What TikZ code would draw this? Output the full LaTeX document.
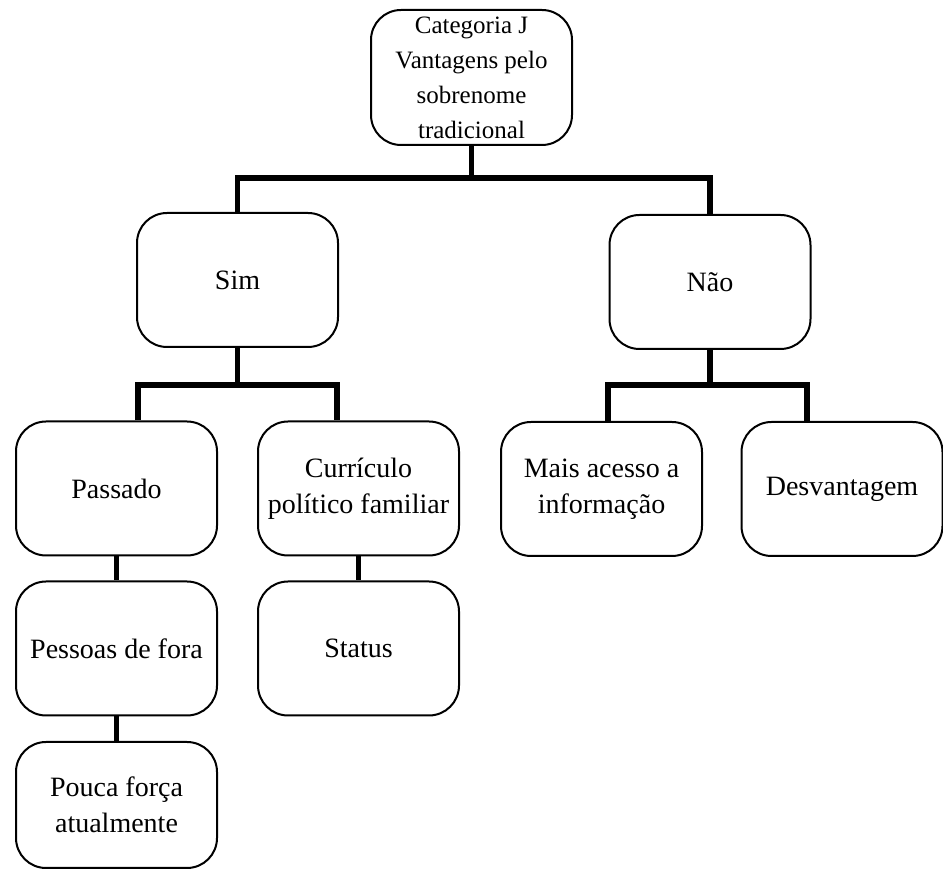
\documentclass[tikz,border=0pt]{standalone}
\usepackage{fontspec}
\setmainfont{Liberation Serif}
\usetikzlibrary{calc}

\begin{document}
\begin{tikzpicture}[x=0.5pt, y=-0.5pt,
  caixa/.style={draw, rounded corners=15pt, line width=1pt, minimum width=100.5pt,
    minimum height=67pt, align=center, inner sep=1pt, font=\fontsize{14}{18}\selectfont},
  ligacao/.style={line width=2.8pt}]
  \useasboundingbox (0,0) rectangle (943,870);
  % raiz
  \node[caixa, font=\fontsize{12.5}{17.5}\selectfont, minimum height=67.5pt] (cat) at (471.5,77.5)
    {Categoria J\\Vantagens pelo\\sobrenome\\tradicional};
  % nivel 1
  \node[caixa] (sim) at (237.5,280) {Sim};
  \node[caixa] (nao) at (710,282) {Não};
  % nivel 2
  \node[caixa] (passado) at (116.5,488.5) {Passado};
  \node[caixa] (curric) at (358.5,488.5) {Currículo\\político familiar};
  \node[caixa] (mais) at (601.5,489) {Mais acesso a\\informação};
  \node[caixa] (desv) at (842,489) {Desvantagem};
  % nivel 3 e 4
  \node[caixa] (pessoas) at (116.5,648.5) {Pessoas de fora};
  \node[caixa] (status) at (358.5,648.5) {Status};
  \node[caixa, minimum height=63pt] (pouca) at (116.5,805) {Pouca força\\atualmente};
  % barras
  \coordinate (topo) at (471.5,178);
  \coordinate (simE) at (138,385);
  \coordinate (simD) at (337,385);
  \coordinate (naoE) at (608,385);
  \coordinate (naoD) at (807,385);
  \draw[ligacao] (cat.south) -- (topo);
  \draw[ligacao] (sim.north) |- (topo) -| (nao.north);
  \draw[ligacao] (sim.south) -- (sim.south |- simE);
  \draw[ligacao] (passado.north -| simE) -- (simE) -- (simD) -- (curric.north -| simD);
  \draw[ligacao] (nao.south) -- (nao.south |- naoE);
  \draw[ligacao] (mais.north -| naoE) -- (naoE) -- (naoD) -- (desv.north -| naoD);
  \draw[ligacao] (passado) -- (pessoas);
  \draw[ligacao] (curric) -- (status);
  \draw[ligacao] (pessoas) -- (pouca);
\end{tikzpicture}
\end{document}
